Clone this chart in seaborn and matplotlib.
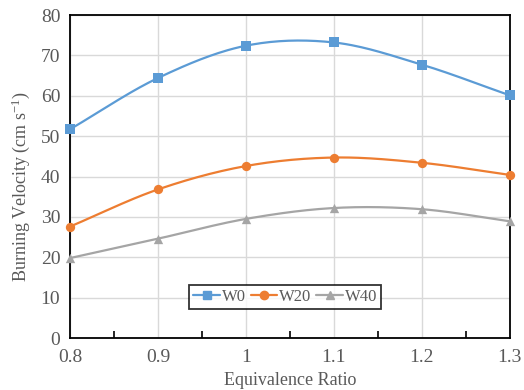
import numpy as np
import pandas as pd
import matplotlib
matplotlib.use("Agg")
import matplotlib.pyplot as plt
import seaborn as sns
from matplotlib.ticker import MultipleLocator

ratio = [0.8, 0.9, 1.0, 1.1, 1.2, 1.3]
w0 = [51.7, 64.4, 72.4, 73.2, 67.7, 60.1]
w20 = [27.6, 36.8, 42.6, 44.7, 43.4, 40.4]
w40 = [19.8, 24.6, 29.5, 32.2, 31.9, 28.9]
series_names = ["W0", "W20", "W40"]
colors = ["#5B9BD5", "#ED7D31", "#A5A5A5"]
markers = ["s", "o", "^"]

def smooth(x, y, n=30):
    # Catmull-Rom style curve (like Excel smoothed lines) through data points
    x = np.asarray(x, float); y = np.asarray(y, float)
    P = np.column_stack([x, y])
    P = np.vstack([2 * P[0] - P[1], P, 2 * P[-1] - P[-2]])
    out = []
    for i in range(1, len(P) - 2):
        p0, p1, p2, p3 = P[i - 1], P[i], P[i + 1], P[i + 2]
        c1 = p1 + (p2 - p0) / 6.0
        c2 = p2 - (p3 - p1) / 6.0
        t = np.linspace(0, 1, n)[:, None]
        b = (1 - t) ** 3 * p1 + 3 * (1 - t) ** 2 * t * c1 + 3 * (1 - t) * t ** 2 * c2 + t ** 3 * p2
        out.append(b if i == 1 else b[1:])
    return np.vstack(out)

sns.set_theme(style="white")
plt.rcParams["font.family"] = ["Liberation Serif", "DejaVu Serif"]
plt.rcParams["mathtext.fontset"] = "custom"
plt.rcParams["mathtext.rm"] = "Liberation Serif"
plt.rcParams["mathtext.it"] = "Liberation Serif:italic"

fig = plt.figure(figsize=(5.24, 3.9), dpi=100)
ax = fig.add_axes([0.1336, 0.1333, 0.8394, 0.8282])

for name, vals, c, m in zip(series_names, [w0, w20, w40], colors, markers):
    curve = smooth(ratio, vals)
    df_c = pd.DataFrame({"x": curve[:, 0], "y": curve[:, 1]})
    sns.lineplot(data=df_c, x="x", y="y", color=c, lw=1.6, ax=ax, sort=False, estimator=None)
    df_p = pd.DataFrame({"x": ratio, "y": vals})
    sns.scatterplot(data=df_p, x="x", y="y", color=c, marker=m, s=45, edgecolor=c, linewidth=0, ax=ax, zorder=5, clip_on=False)
    ax.plot([], [], color=c, marker=m, ms=6, lw=1.6, label=name)

ax.set_xlim(0.8, 1.3)
ax.set_ylim(0, 80)
ax.xaxis.set_minor_locator(MultipleLocator(0.05))
ax.yaxis.set_major_locator(MultipleLocator(10))
ax.set_xticks(ratio)
ax.set_xticklabels(["0.8", "0.9", "1", "1.1", "1.2", "1.3"])
ax.grid(True, which="major", color="#D9D9D9", lw=1.0)
ax.set_axisbelow(True)
ax.tick_params(axis="x", which="minor", direction="in", length=5, width=1.2, color="black", bottom=True)
ax.tick_params(axis="x", which="major", direction="in", length=0, pad=8)
ax.tick_params(axis="y", which="major", length=0, pad=7)
ax.tick_params(labelsize=14, labelcolor="#595959")
for s in ax.spines.values():
    s.set_color("black")
    s.set_linewidth(1.3)

ax.set_xlabel("Equivalence Ratio", fontsize=13, color="#595959", labelpad=4)
ax.set_ylabel("Burning Velocity (cm s$^{\\mathrm{-1}}$)", fontsize=13, color="#595959")
ax.yaxis.set_label_coords(-0.086, 0.47)

leg = ax.legend(loc="center", bbox_to_anchor=(0.489, 0.127), ncol=3, frameon=True,
                fancybox=False, edgecolor="black", fontsize=12, handlelength=1.6,
                handletextpad=0.1, columnspacing=0.3, borderpad=0.25, borderaxespad=0,
                labelcolor="#595959")
leg.get_frame().set_linewidth(1.3)

fig.savefig("out.png", dpi=100)
